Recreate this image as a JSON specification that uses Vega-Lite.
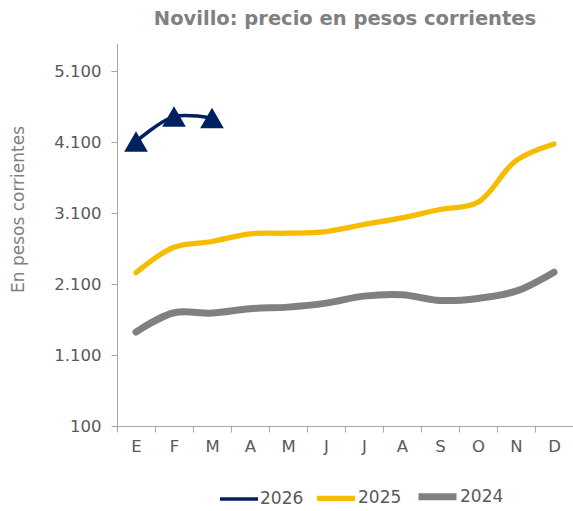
{
  "$schema": "https://vega.github.io/schema/vega-lite/v6.json",
  "width": 456,
  "height": 383,
  "autosize": {"type": "none"},
  "padding": {"left": 117, "top": 43, "right": 0, "bottom": 85},
  "background": "white",
  "config": {
    "view": {"stroke": null},
    "font": "DejaVu Sans"
  },
  "title": {
    "text": "Novillo: precio en pesos corrientes",
    "anchor": "middle",
    "font": "DejaVu Sans",
    "fontSize": 19.5,
    "fontWeight": "bold",
    "color": "#808080",
    "offset": 14
  },
  "data": {
    "values": [
      {"mes": 1, "anio": "2024", "valor": 1424},
      {"mes": 2, "anio": "2024", "valor": 1697},
      {"mes": 3, "anio": "2024", "valor": 1692},
      {"mes": 4, "anio": "2024", "valor": 1754},
      {"mes": 5, "anio": "2024", "valor": 1776},
      {"mes": 6, "anio": "2024", "valor": 1832},
      {"mes": 7, "anio": "2024", "valor": 1931},
      {"mes": 8, "anio": "2024", "valor": 1951},
      {"mes": 9, "anio": "2024", "valor": 1870},
      {"mes": 10, "anio": "2024", "valor": 1899},
      {"mes": 11, "anio": "2024", "valor": 2001},
      {"mes": 12, "anio": "2024", "valor": 2269},
      {"mes": 1, "anio": "2025", "valor": 2261},
      {"mes": 2, "anio": "2025", "valor": 2621},
      {"mes": 3, "anio": "2025", "valor": 2701},
      {"mes": 4, "anio": "2025", "valor": 2810},
      {"mes": 5, "anio": "2025", "valor": 2818},
      {"mes": 6, "anio": "2025", "valor": 2842},
      {"mes": 7, "anio": "2025", "valor": 2941},
      {"mes": 8, "anio": "2025", "valor": 3035},
      {"mes": 9, "anio": "2025", "valor": 3152},
      {"mes": 10, "anio": "2025", "valor": 3255},
      {"mes": 11, "anio": "2025", "valor": 3842},
      {"mes": 12, "anio": "2025", "valor": 4077},
      {"mes": 1, "anio": "2026", "valor": 4110},
      {"mes": 2, "anio": "2026", "valor": 4462},
      {"mes": 3, "anio": "2026", "valor": 4441}
    ]
  },
  "encoding": {
    "x": {
      "field": "mes",
      "type": "ordinal",
      "bandPosition": 0.5,
      "scale": {"type": "band", "domain": [1,2,3,4,5,6,7,8,9,10,11,12], "paddingInner": 0, "paddingOuter": 0},
      "axis": {
        "title": null,
        "tickBand": "extent",
        "labelAngle": 0,
        "labelExpr": "['E','F','M','A','M','J','J','A','S','O','N','D'][datum.value-1]",
        "labelFont": "DejaVu Sans",
        "labelFontSize": 16.5,
        "labelColor": "#595959",
        "labelPadding": 6,
        "tickSize": 6,
        "tickColor": "#A6A6A6",
        "domainColor": "#A6A6A6",
        "grid": false
      }
    },
    "y": {
      "field": "valor",
      "type": "quantitative",
      "scale": {"domain": [100, 5500], "nice": false, "zero": false},
      "axis": {
        "title": "En pesos corrientes",
        "titleFont": "DejaVu Sans",
        "titleFontSize": 17,
        "titleFontWeight": "normal",
        "titleColor": "#7F7F7F",
        "titleX": -99,
        "titleY": 166,
        "titleAngle": -90,
        "titleAlign": "center",
        "titleBaseline": "middle",
        "values": [100, 1100, 2100, 3100, 4100, 5100],
        "labelExpr": "replace(format(datum.value, ','), ',', '.')",
        "labelFont": "DejaVu Sans",
        "labelFontSize": 16.5,
        "labelColor": "#595959",
        "labelPadding": 10,
        "tickSize": 6,
        "tickColor": "#A6A6A6",
        "domainColor": "#A6A6A6",
        "grid": false
      }
    }
  },
  "layer": [
    {
      "mark": {"type": "line", "interpolate": "catmull-rom", "strokeCap": "round"},
      "encoding": {
        "color": {
          "field": "anio",
          "type": "nominal",
          "scale": {"domain": ["2026", "2025", "2024"], "range": ["#002060", "#F5BC00", "#808080"]},
          "legend": {
            "title": null,
            "orient": "none",
            "direction": "horizontal",
            "legendX": 101,
            "legendY": 431,
            "symbolType": "stroke",
            "symbolSize": 1444,
            "symbolStrokeWidth": 6.5,
            "labelFont": "DejaVu Sans",
            "labelFontSize": 17,
            "labelColor": "#595959",
            "labelOffset": 0,
            "columnPadding": 2
          }
        },
        "strokeWidth": {
          "field": "anio",
          "type": "nominal",
          "scale": {"domain": ["2026", "2025", "2024"], "range": [3.5, 7, 7]},
          "legend": null
        },
        "order": {"field": "mes", "type": "quantitative"}
      }
    },
    {
      "transform": [{"filter": "datum.anio == '2026'"}],
      "mark": {"type": "point", "shape": "triangle-up", "filled": true, "color": "#002060", "size": 560, "opacity": 1}
    }
  ]
}
